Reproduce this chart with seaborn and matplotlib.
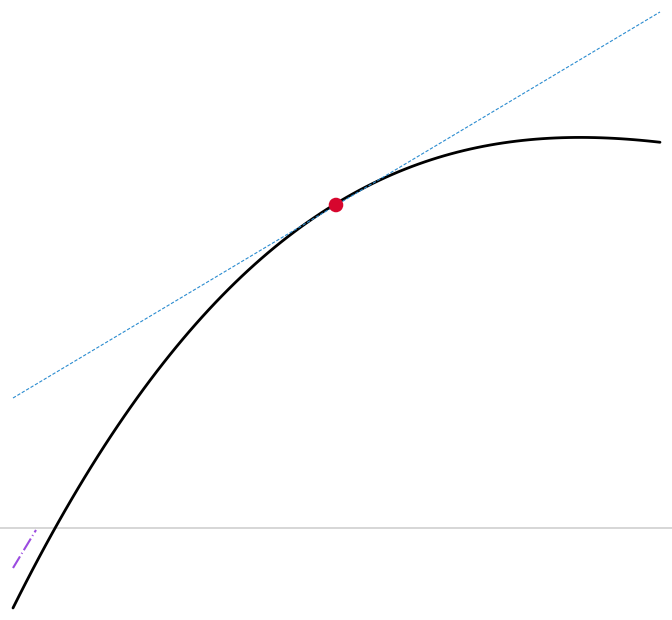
import matplotlib
matplotlib.use("Agg")
import matplotlib.pyplot as plt
import seaborn as sns

# Curve points
curve_x = [0.13, 0.55, 0.77, 0.93, 1.10, 1.27, 1.43, 1.60, 1.93, 2.27, 2.60, 2.93,
           3.36, 3.50, 3.83, 4.17, 4.50, 4.83, 5.17, 5.50, 5.80, 6.20, 6.60]
curve_y = [-0.79, 0.00, 0.38, 0.65, 0.90, 1.13, 1.35, 1.61, 2.05, 2.38, 2.68, 2.95,
           3.23, 3.32, 3.51, 3.65, 3.75, 3.81, 3.86, 3.885, 3.90, 3.89, 3.87]

# Tangent line at the marked point
tangent_x = [0.13, 6.60]
tangent_y = [1.30, 5.16]

# Marked point
point_x = [3.36]
point_y = [3.23]

# Short dash-dot segment
seg_x = [0.13, 0.36]
seg_y = [-0.40, -0.02]

sns.set_style("white")
fig = plt.figure(figsize=(6.72, 6.20), dpi=100)
ax = fig.add_axes([0, 0, 1, 1])

ax.axhline(0, color="#cccccc", lw=1.1, zorder=1)

sns.lineplot(x=seg_x, y=seg_y, ax=ax, color="#9b4be0", lw=1.5,
             linestyle=(0, (6.5, 1.5, 0.5, 1.5)), sort=False, zorder=2)
# smooth curve through the read points (cubic fit drawn by seaborn)
sns.regplot(x=curve_x, y=curve_y, ax=ax, order=3, ci=None, scatter=False,
            truncate=True, line_kws=dict(color="black", lw=2.0, zorder=3))
sns.lineplot(x=tangent_x, y=tangent_y, ax=ax, color="#2b8cd0", lw=0.8,
             linestyle=(0, (3, 1.6)), sort=False, zorder=4)
sns.scatterplot(x=point_x, y=point_y, ax=ax, color="#d7062e", s=110,
                edgecolor="none", zorder=5)

ax.set_xlim(0, 6.72)
ax.set_ylim(-0.92, 5.28)
ax.set_axis_off()

fig.savefig("out.png", dpi=100)
